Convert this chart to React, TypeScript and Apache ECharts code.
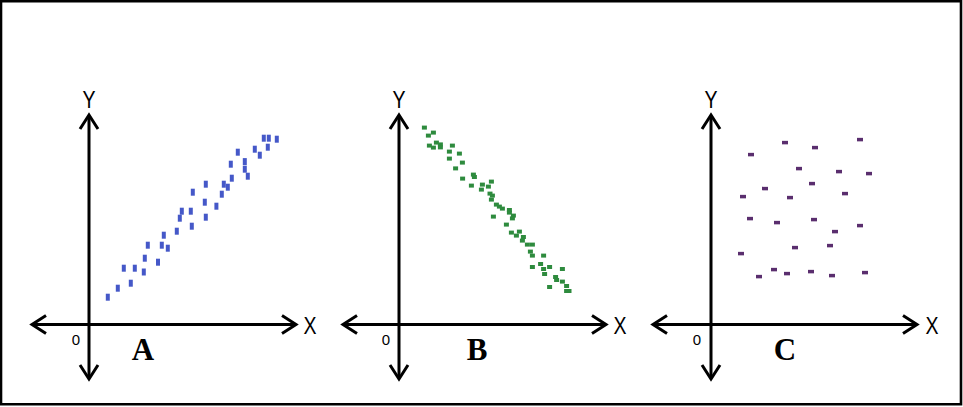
import React, { useEffect, useRef } from "react";
import * as echarts from "echarts";

// Panel A – positive correlation (x, y in 0..100 units)
const pointsA: [number, number][] = [
  [9.4, 13.4], [14.4, 17.9], [20.9, 20.4], [17.4, 27.9], [22.9, 27.9], [27.4, 26.0],
  [27.9, 32.9], [34.5, 30.9], [29.4, 39.4], [36.4, 39.4], [39.4, 37.9], [37.4, 44.4],
  [43.9, 46.4], [45.4, 52.9], [46.4, 56.4], [50.9, 56.4], [51.4, 48.9], [51.9, 65.9],
  [57.9, 60.9], [58.4, 53.4], [58.4, 69.9], [63.7, 58.9], [66.4, 64.9], [67.4, 69.9],
  [69.4, 68.4], [71.4, 72.9], [70.9, 79.9], [74.4, 85.9], [77.9, 81.2], [77.9, 77.4],
  [79.4, 73.9], [82.9, 87.4], [85.4, 84.4], [89.4, 88.4], [87.4, 92.9], [89.9, 92.9],
  [93.9, 92.4],
];

// Panel B – negative correlation
const pointsB: [number, number][] = [
  [12.7, 98.2], [14.7, 94.2], [17.2, 95.7], [15.2, 89.2], [17.2, 88.2], [18.7, 90.7],
  [20.7, 89.8], [20.7, 88.3], [26.7, 89.2], [25.2, 86.2], [30.2, 85.2], [25.2, 82.7],
  [31.7, 80.7], [28.3, 77.8], [37.2, 74.7], [37.7, 73.5], [31.8, 72.7], [36.2, 69.2],
  [41.7, 69.7], [41.2, 67.2], [44.7, 68.7], [46.2, 71.2], [45.5, 65.2], [46.7, 64.2],
  [46.2, 62.2], [48.7, 59.7], [50.2, 58.7], [51.7, 57.7], [55.2, 57.0], [55.2, 55.7],
  [57.2, 54.2], [56.7, 52.8], [47.2, 53.7], [53.7, 49.7], [56.2, 45.7], [58.7, 44.2],
  [60.2, 46.2], [62.2, 43.5], [61.7, 41.7], [64.2, 39.7], [66.7, 39.7], [65.7, 36.2],
  [66.7, 34.2], [72.3, 34.2], [70.8, 30.0], [66.7, 28.5], [72.3, 27.5], [75.3, 28.5],
  [72.8, 25.0], [81.7, 27.5], [78.3, 23.5], [78.8, 22.0], [81.7, 21.2], [83.8, 19.0],
  [75.3, 18.5], [83.8, 16.5], [85.0, 16.5],
];

// Panel C – no correlation
const pointsC: [number, number][] = [
  [37.0, 90.7], [52.0, 88.2], [74.5, 92.2], [20.0, 84.7], [44.0, 77.7], [64.0, 76.2],
  [79.0, 75.2], [50.5, 70.2], [27.0, 67.7], [16.0, 63.7], [39.5, 63.2], [67.0, 65.2],
  [19.5, 52.7], [33.0, 50.7], [51.5, 52.2], [62.0, 46.2], [74.5, 49.2], [42.0, 38.2],
  [59.5, 39.2], [15.0, 35.2], [31.5, 27.2], [24.0, 23.7], [38.0, 25.2], [50.0, 26.2],
  [60.5, 24.2], [77.0, 25.7],
];

const panelLabels = ["A", "B", "C"];
const axisLetters = { x: "X", y: "Y", origin: "0" };

export default function App() {
  const ref = useRef<HTMLDivElement>(null);

  useEffect(() => {
    document.body.style.margin = "0";
    if (!ref.current) return;
    const chart = echarts.init(ref.current, null, { renderer: "svg" });

    const origins = [
      { ox: 89, left: 32, right: 296, label: 143, zero: 76, xl: 310 },
      { ox: 399, left: 343, right: 606, label: 477, zero: 386, xl: 620 },
      { ox: 711, left: 653, right: 917, label: 785, zero: 697, xl: 932 },
    ];
    const oy = 324.5;
    const top = 115;
    const bottom = 379;
    const along = 14;
    const perp = 9;
    const axisStyle = { stroke: "#000", lineWidth: 3, lineCap: "butt" as const, lineJoin: "miter" as const, fill: null };
    const letterStyle = { fontFamily: "Liberation Sans", fontSize: 23, fill: "#000", align: "center", verticalAlign: "middle" };

    const graphics: any[] = [
      {
        type: "rect",
        shape: { x: 1, y: 1.3, width: 960, height: 403 },
        style: { fill: null, stroke: "#000", lineWidth: 2.6 },
        silent: true,
      },
    ];

    origins.forEach((o, i) => {
      graphics.push(
        { type: "line", shape: { x1: o.ox, y1: top + 1, x2: o.ox, y2: bottom - 1 }, style: axisStyle },
        { type: "line", shape: { x1: o.left + 1, y1: oy, x2: o.right - 1, y2: oy }, style: axisStyle },
        { type: "polyline", shape: { points: [[o.ox - perp, top + along], [o.ox, top], [o.ox + perp, top + along]] }, style: axisStyle },
        { type: "polyline", shape: { points: [[o.ox - perp, bottom - along], [o.ox, bottom], [o.ox + perp, bottom - along]] }, style: axisStyle },
        { type: "polyline", shape: { points: [[o.left + along, oy - perp], [o.left, oy], [o.left + along, oy + perp]] }, style: axisStyle },
        { type: "polyline", shape: { points: [[o.right - along, oy - perp], [o.right, oy], [o.right - along, oy + perp]] }, style: axisStyle },
        { type: "text", x: o.ox, y: 100, scaleX: 0.85, style: { ...letterStyle, text: axisLetters.y } },
        { type: "text", x: o.xl, y: 326, scaleX: 0.85, style: { ...letterStyle, text: axisLetters.x } },
        {
          type: "text", x: o.zero, y: 339,
          style: { text: axisLetters.origin, fontFamily: "Liberation Sans", fontSize: 15, fill: "#000", align: "center", verticalAlign: "middle" },
        },
        {
          type: "text", x: o.label, y: 349,
          style: { text: panelLabels[i], fontFamily: "Liberation Serif", fontWeight: "bold", fontSize: 31, fill: "#000", align: "center", verticalAlign: "middle" },
        }
      );
    });

    const grids = origins.map((o) => ({ left: o.ox, top: 124, width: 200, height: 200 }));
    const hiddenAxis = (gi: number) => ({
      type: "value", gridIndex: gi, min: 0, max: 100, show: false,
    });

    chart.setOption({
      animation: false,
      backgroundColor: "#fff",
      grid: grids,
      xAxis: [0, 1, 2].map(hiddenAxis),
      yAxis: [0, 1, 2].map(hiddenAxis),
      series: [
        { type: "scatter", xAxisIndex: 0, yAxisIndex: 0, data: pointsA, symbol: "rect", symbolSize: [4, 7], itemStyle: { color: "#4558c8", opacity: 1 } },
        { type: "scatter", xAxisIndex: 1, yAxisIndex: 1, data: pointsB, symbol: "rect", symbolSize: [5, 4], itemStyle: { color: "#2e8b3e", opacity: 1 } },
        { type: "scatter", xAxisIndex: 2, yAxisIndex: 2, data: pointsC, symbol: "rect", symbolSize: [6, 3.5], itemStyle: { color: "#5a2e6e", opacity: 1 } },
      ],
      graphic: graphics,
    });

    return () => chart.dispose();
  }, []);

  return <div ref={ref} style={{ width: 963, height: 407 }} />;
}
